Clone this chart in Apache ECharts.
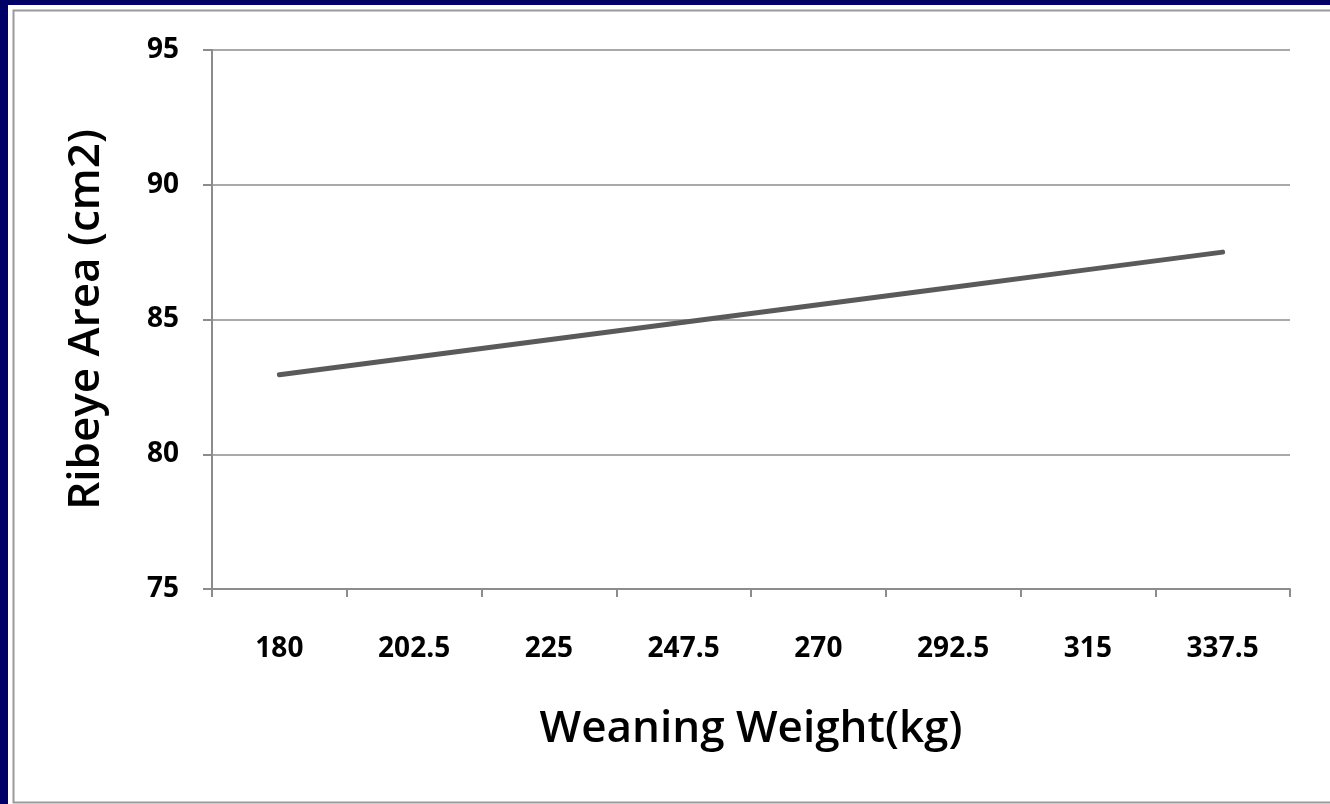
<!DOCTYPE html>
<html>
<head>
<meta charset="utf-8">
<title>Ribeye Area vs Weaning Weight</title>
<script src="https://cdn.jsdelivr.net/npm/echarts@6/dist/echarts.min.js"></script>
<style>
  html, body { margin: 0; padding: 0; background: #000066; }
  #chart { width: 1330px; height: 804px; }
</style>
</head>
<body>
<div id="chart"></div>
<script>
// Weaning weight classes (kg)
const weaningWeights = ['180', '202.5', '225', '247.5', '270', '292.5', '315', '337.5'];
// Predicted ribeye area (cm2) at each weaning weight
const ribeyeArea = [82.95, 83.6, 84.25, 84.9, 85.55, 86.2, 86.85, 87.5];
// Value axis range
const yMin = 75, yMax = 95, yStep = 5;

const chart = echarts.init(document.getElementById('chart'), null, { renderer: 'canvas' });
const font = '"Open Sans", "DejaVu Sans", sans-serif';

chart.setOption({
  backgroundColor: '#000066',
  animation: false,
  graphic: [
    { type: 'rect', shape: { x: 8, y: 5, width: 1330, height: 804 }, style: { fill: '#ffffff' }, z: -10 },
    { type: 'rect', shape: { x: 13.5, y: 10.5, width: 1330, height: 792 }, style: { fill: 'none', stroke: '#9a9a9a', lineWidth: 2 }, z: -9 }
  ],
  grid: { left: 212, top: 50, right: 40, bottom: 215 },
  xAxis: {
    type: 'category',
    data: weaningWeights,
    boundaryGap: true,
    name: 'Weaning Weight(kg)',
    nameLocation: 'middle',
    nameGap: 118,
    nameTextStyle: { fontFamily: font, fontSize: 44, fontWeight: 600, color: '#000' },
    axisLine: { lineStyle: { color: '#8c8c8c', width: 2 } },
    axisTick: { show: true, length: 8, lineStyle: { color: '#8c8c8c', width: 2 } },
    axisLabel: { fontFamily: font, fontSize: 28, fontWeight: 700, color: '#000', margin: 46 },
    splitLine: { show: false }
  },
  yAxis: {
    type: 'value',
    min: yMin, max: yMax, interval: yStep,
    name: 'Ribeye Area (cm2)',
    nameLocation: 'middle',
    nameGap: 104,
    nameRotate: 90,
    nameTextStyle: { fontFamily: font, fontSize: 44, fontWeight: 600, color: '#000' },
    axisLine: { show: true, lineStyle: { color: '#8c8c8c', width: 2 } },
    axisTick: { show: true, length: 9, lineStyle: { color: '#8c8c8c', width: 2 } },
    axisLabel: { fontFamily: font, fontSize: 28, fontWeight: 700, color: '#000', margin: 33 },
    splitLine: { show: true, lineStyle: { color: '#8c8c8c', width: 1.5 } }
  },
  series: [{
    type: 'line',
    data: ribeyeArea,
    showSymbol: false,
    symbol: 'none',
    lineStyle: { color: '#5a5a5a', width: 5, cap: 'round' }
  }]
});
</script>
</body>
</html>
